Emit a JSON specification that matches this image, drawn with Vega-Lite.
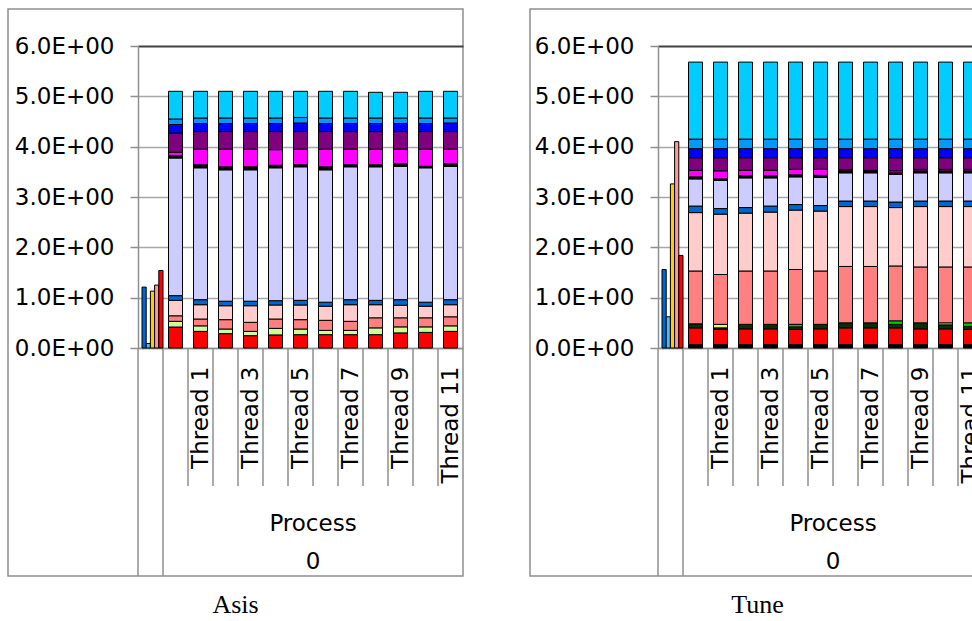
{
  "$schema": "https://vega.github.io/schema/vega-lite/v6.json",
  "background": "white",
  "padding": {"left": 7, "top": 8, "right": 0, "bottom": 0},
  "spacing": 65,
  "config": {
    "view": {"stroke": "#8f8f8f", "strokeWidth": 1.5},
    "font": "DejaVu Sans"
  },
  "datasets": {
    "slots": [
      {"cat": "All"}, {"cat": "Thread 0"}, {"cat": "Thread 1"}, {"cat": "Thread 2"}, {"cat": "Thread 3"},
      {"cat": "Thread 4"}, {"cat": "Thread 5"}, {"cat": "Thread 6"}, {"cat": "Thread 7"}, {"cat": "Thread 8"},
      {"cat": "Thread 9"}, {"cat": "Thread 10"}, {"cat": "Thread 11"}
    ],
    "asis": [
      {"cat": "Thread 0", "S02": 0.417, "S05": 0.113, "S06": 0.11, "S07": 0.307, "S08": 0.093, "S09": 2.735, "S10": 0.045, "S11": 0.07, "S12": 0.38, "S13": 0.17, "S14": 0.11, "S15": 0.55},
      {"cat": "Thread 1", "S02": 0.33, "S05": 0.11, "S06": 0.136, "S07": 0.284, "S08": 0.1, "S09": 2.62, "S10": 0.06, "S11": 0.31, "S12": 0.35, "S13": 0.16, "S14": 0.11, "S15": 0.53},
      {"cat": "Thread 2", "S02": 0.285, "S05": 0.092, "S06": 0.186, "S07": 0.277, "S08": 0.09, "S09": 2.61, "S10": 0.06, "S11": 0.35, "S12": 0.35, "S13": 0.16, "S14": 0.11, "S15": 0.53},
      {"cat": "Thread 3", "S02": 0.245, "S05": 0.085, "S06": 0.18, "S07": 0.33, "S08": 0.09, "S09": 2.61, "S10": 0.06, "S11": 0.35, "S12": 0.35, "S13": 0.16, "S14": 0.11, "S15": 0.53},
      {"cat": "Thread 4", "S02": 0.26, "S05": 0.13, "S06": 0.186, "S07": 0.278, "S08": 0.086, "S09": 2.64, "S10": 0.05, "S11": 0.31, "S12": 0.36, "S13": 0.16, "S14": 0.11, "S15": 0.53},
      {"cat": "Thread 5", "S02": 0.265, "S05": 0.112, "S06": 0.186, "S07": 0.291, "S08": 0.093, "S09": 2.653, "S10": 0.04, "S11": 0.31, "S12": 0.35, "S13": 0.17, "S14": 0.11, "S15": 0.52},
      {"cat": "Thread 6", "S02": 0.265, "S05": 0.085, "S06": 0.2, "S07": 0.28, "S08": 0.08, "S09": 2.63, "S10": 0.06, "S11": 0.35, "S12": 0.35, "S13": 0.16, "S14": 0.11, "S15": 0.53},
      {"cat": "Thread 7", "S02": 0.265, "S05": 0.085, "S06": 0.18, "S07": 0.33, "S08": 0.1, "S09": 2.64, "S10": 0.04, "S11": 0.31, "S12": 0.35, "S13": 0.16, "S14": 0.11, "S15": 0.53},
      {"cat": "Thread 8", "S02": 0.265, "S05": 0.135, "S06": 0.2, "S07": 0.26, "S08": 0.087, "S09": 2.653, "S10": 0.04, "S11": 0.31, "S12": 0.35, "S13": 0.16, "S14": 0.11, "S15": 0.51},
      {"cat": "Thread 9", "S02": 0.3, "S05": 0.12, "S06": 0.18, "S07": 0.25, "S08": 0.11, "S09": 2.65, "S10": 0.05, "S11": 0.29, "S12": 0.35, "S13": 0.16, "S14": 0.11, "S15": 0.51},
      {"cat": "Thread 10", "S02": 0.31, "S05": 0.11, "S06": 0.18, "S07": 0.23, "S08": 0.08, "S09": 2.67, "S10": 0.03, "S11": 0.34, "S12": 0.35, "S13": 0.16, "S14": 0.11, "S15": 0.53},
      {"cat": "Thread 11", "S02": 0.33, "S05": 0.11, "S06": 0.18, "S07": 0.24, "S08": 0.1, "S09": 2.65, "S10": 0.05, "S11": 0.29, "S12": 0.35, "S13": 0.17, "S14": 0.1, "S15": 0.53}
    ],
    "asisTotals": [
      {"cat": "All", "series": "S16", "value": 1.21},
      {"cat": "All", "series": "S17", "value": 0.09},
      {"cat": "All", "series": "S18", "value": 1.13},
      {"cat": "All", "series": "S19", "value": 1.25},
      {"cat": "All", "series": "S20", "value": 1.54}
    ],
    "tune": [
      {"cat": "Thread 0", "S01": 0.066, "S02": 0.334, "S03": 0.08, "S06": 1.05, "S07": 1.16, "S08": 0.13, "S09": 0.54, "S10": 0.04, "S11": 0.13, "S12": 0.25, "S13": 0.18, "S14": 0.19, "S15": 1.53},
      {"cat": "Thread 1", "S01": 0.066, "S02": 0.304, "S03": 0.03, "S05": 0.07, "S06": 0.99, "S07": 1.2, "S08": 0.11, "S09": 0.56, "S10": 0.03, "S11": 0.16, "S12": 0.26, "S13": 0.18, "S14": 0.19, "S15": 1.53},
      {"cat": "Thread 2", "S01": 0.066, "S02": 0.314, "S03": 0.09, "S06": 1.06, "S07": 1.15, "S08": 0.11, "S09": 0.59, "S10": 0.04, "S11": 0.11, "S12": 0.25, "S13": 0.18, "S14": 0.19, "S15": 1.53},
      {"cat": "Thread 3", "S01": 0.066, "S02": 0.314, "S03": 0.09, "S06": 1.06, "S07": 1.17, "S08": 0.12, "S09": 0.56, "S10": 0.04, "S11": 0.11, "S12": 0.25, "S13": 0.18, "S14": 0.19, "S15": 1.53},
      {"cat": "Thread 4", "S01": 0.066, "S02": 0.304, "S03": 0.05, "S04": 0.05, "S06": 1.09, "S07": 1.18, "S08": 0.11, "S09": 0.55, "S10": 0.04, "S11": 0.11, "S12": 0.23, "S13": 0.18, "S14": 0.19, "S15": 1.53},
      {"cat": "Thread 5", "S01": 0.066, "S02": 0.314, "S03": 0.09, "S06": 1.06, "S07": 1.19, "S08": 0.11, "S09": 0.56, "S10": 0.04, "S11": 0.12, "S12": 0.23, "S13": 0.18, "S14": 0.19, "S15": 1.53},
      {"cat": "Thread 6", "S01": 0.066, "S02": 0.334, "S03": 0.1, "S06": 1.12, "S07": 1.19, "S08": 0.11, "S09": 0.56, "S10": 0.04, "S11": 0.02, "S12": 0.24, "S13": 0.18, "S14": 0.19, "S15": 1.53},
      {"cat": "Thread 7", "S01": 0.066, "S02": 0.334, "S03": 0.1, "S06": 1.12, "S07": 1.19, "S08": 0.11, "S09": 0.56, "S10": 0.04, "S11": 0.01, "S12": 0.25, "S13": 0.18, "S14": 0.19, "S15": 1.53},
      {"cat": "Thread 8", "S01": 0.066, "S02": 0.334, "S03": 0.07, "S04": 0.07, "S06": 1.09, "S07": 1.16, "S08": 0.11, "S09": 0.55, "S10": 0.03, "S11": 0.04, "S12": 0.26, "S13": 0.18, "S14": 0.19, "S15": 1.53},
      {"cat": "Thread 9", "S01": 0.066, "S02": 0.314, "S03": 0.12, "S06": 1.11, "S07": 1.2, "S08": 0.11, "S09": 0.56, "S10": 0.04, "S11": 0.03, "S12": 0.23, "S13": 0.18, "S14": 0.19, "S15": 1.53},
      {"cat": "Thread 10", "S01": 0.066, "S02": 0.314, "S03": 0.08, "S05": 0.04, "S06": 1.11, "S07": 1.2, "S08": 0.11, "S09": 0.56, "S10": 0.04, "S11": 0.03, "S12": 0.23, "S13": 0.18, "S14": 0.19, "S15": 1.53},
      {"cat": "Thread 11", "S01": 0.066, "S02": 0.304, "S03": 0.06, "S04": 0.07, "S06": 1.11, "S07": 1.2, "S08": 0.11, "S09": 0.56, "S10": 0.04, "S11": 0.03, "S12": 0.23, "S13": 0.18, "S14": 0.19, "S15": 1.53}
    ],
    "tuneTotals": [
      {"cat": "All", "series": "S16", "value": 1.56},
      {"cat": "All", "series": "S17", "value": 0.62},
      {"cat": "All", "series": "S18", "value": 3.26},
      {"cat": "All", "series": "S19", "value": 4.1},
      {"cat": "All", "series": "S20", "value": 1.84}
    ]
  },
  "hconcat": [
    {
      "width": 455,
      "height": 567,
      "title": {"text": "Asis", "orient": "bottom", "anchor": "middle", "offset": 15, "font": "Liberation Serif", "fontSize": 26, "fontWeight": "normal", "color": "#000000"},
      "resolve": {"axis": {"x": "independent", "y": "independent"}},
      "layer": [
        {
          "data": {"name": "slots"},
          "transform": [{"filter": "datum.cat === 'All' || datum.cat === 'Thread 0'"}],
          "mark": {"type": "rule", "color": "#8f8f8f", "strokeWidth": 1.5},
          "encoding": {
            "x": {"field": "cat", "type": "nominal", "bandPosition": 0, "axis": null, "scale": {"type": "band", "domain": ["All", "Thread 0", "Thread 1", "Thread 2", "Thread 3", "Thread 4", "Thread 5", "Thread 6", "Thread 7", "Thread 8", "Thread 9", "Thread 10", "Thread 11"], "range": [130, 455], "paddingInner": 0, "paddingOuter": 0}},
            "y": {"datum": 0, "type": "quantitative", "axis": null, "scale": {"domain": [0, 6], "range": [339, 37], "nice": false, "zero": true}},
            "y2": {"datum": -4.53}
          }
        },
        {
          "data": {"name": "slots"},
          "transform": [{"filter": "datum.cat !== 'All' && datum.cat !== 'Thread 0'"}],
          "mark": {"type": "rule", "color": "#8f8f8f", "strokeWidth": 1.5},
          "encoding": {
            "x": {"field": "cat", "type": "nominal", "bandPosition": 0, "axis": null, "scale": {"type": "band", "domain": ["All", "Thread 0", "Thread 1", "Thread 2", "Thread 3", "Thread 4", "Thread 5", "Thread 6", "Thread 7", "Thread 8", "Thread 9", "Thread 10", "Thread 11"], "range": [130, 455], "paddingInner": 0, "paddingOuter": 0}},
            "y": {"datum": 0, "type": "quantitative", "axis": null, "scale": {"domain": [0, 6], "range": [339, 37], "nice": false, "zero": true}},
            "y2": {"datum": -2.742}
          }
        },
        {
          "data": {"name": "asis"},
          "transform": [
            {"fold": ["S01", "S02", "S03", "S04", "S05", "S06", "S07", "S08", "S09", "S10", "S11", "S12", "S13", "S14", "S15"], "as": ["series", "value"]},
            {"filter": "isValid(datum.value) && datum.value > 0"}
          ],
          "mark": {"type": "bar", "size": 14, "stroke": "#000000", "strokeWidth": 1},
          "encoding": {
            "x": {
              "field": "cat", "type": "nominal", "title": null,
              "scale": {"type": "band", "domain": ["All", "Thread 0", "Thread 1", "Thread 2", "Thread 3", "Thread 4", "Thread 5", "Thread 6", "Thread 7", "Thread 8", "Thread 9", "Thread 10", "Thread 11"], "range": [130, 455], "paddingInner": 0, "paddingOuter": 0},
              "axis": {"orient": "bottom", "offset": -228, "ticks": false, "grid": false, "domain": true, "domainColor": "#8f8f8f", "domainWidth": 1.5, "labelAngle": 270, "labelAlign": "right", "labelBaseline": "middle", "labelPadding": 18, "labelFont": "DejaVu Sans", "labelFontSize": 23, "labelColor": "#000000", "labelLimit": 300, "labelExpr": "indexof(['Thread 1','Thread 3','Thread 5','Thread 7','Thread 9','Thread 11'], datum.value) >= 0 ? datum.value : ''"}
            },
            "y": {
              "field": "value", "type": "quantitative", "stack": "zero", "title": null,
              "scale": {"domain": [0, 6], "range": [339, 37], "nice": false, "zero": true},
              "axis": {"orient": "left", "offset": -130, "values": [0, 1, 2, 3, 4, 5, 6], "tickSize": 8, "tickColor": "#8f8f8f", "tickWidth": 1.5, "domainColor": "#8f8f8f", "domainWidth": 1.5, "labelPadding": 16, "labelFont": "DejaVu Sans", "labelFontSize": 23, "labelColor": "#000000", "labelExpr": "format(datum.value, '.1f') + 'E+00'", "grid": true, "gridColor": {"condition": {"test": "datum.value === 6", "value": "#404040"}, "value": "#a8a8a8"}, "gridWidth": {"condition": {"test": "datum.value === 6", "value": 2}, "value": 1.5}}
            },
            "color": {"field": "series", "type": "nominal", "legend": null, "scale": {"domain": ["S01", "S02", "S03", "S04", "S05", "S06", "S07", "S08", "S09", "S10", "S11", "S12", "S13", "S14", "S15", "S16", "S17", "S18", "S19", "S20"], "range": ["#000000", "#FF0000", "#003300", "#00CC00", "#CCFF99", "#FF8080", "#FFCCCC", "#0066CC", "#CCCCFF", "#000000", "#FF00FF", "#800080", "#0000FF", "#0099FF", "#00CCFF", "#0066CC", "#4DB8FF", "#FFCC00", "#FF9999", "#FF0000"]}},
            "order": {"field": "series", "type": "ordinal", "sort": "ascending"}
          }
        },
        {
          "data": {"name": "asisTotals"},
          "mark": {"type": "bar", "stroke": "#000000", "strokeWidth": 1},
          "encoding": {
            "x": {"field": "cat", "type": "nominal", "axis": null, "scale": {"type": "band", "domain": ["All", "Thread 0", "Thread 1", "Thread 2", "Thread 3", "Thread 4", "Thread 5", "Thread 6", "Thread 7", "Thread 8", "Thread 9", "Thread 10", "Thread 11"], "range": [130, 455], "paddingInner": 0, "paddingOuter": 0}},
            "xOffset": {"field": "series", "type": "nominal", "scale": {"domain": ["S16", "S17", "S18", "S19", "S20"], "range": [4, 25], "paddingInner": 0, "paddingOuter": 0}},
            "y": {"field": "value", "type": "quantitative", "stack": null, "axis": null, "scale": {"domain": [0, 6], "range": [339, 37], "nice": false, "zero": true}},
            "color": {"field": "series", "type": "nominal", "legend": null, "scale": {"domain": ["S01", "S02", "S03", "S04", "S05", "S06", "S07", "S08", "S09", "S10", "S11", "S12", "S13", "S14", "S15", "S16", "S17", "S18", "S19", "S20"], "range": ["#000000", "#FF0000", "#003300", "#00CC00", "#CCFF99", "#FF8080", "#FFCCCC", "#0066CC", "#CCCCFF", "#000000", "#FF00FF", "#800080", "#0000FF", "#0099FF", "#00CCFF", "#0066CC", "#4DB8FF", "#FFCC00", "#FF9999", "#FF0000"]}}
          }
        },
        {
          "data": {"values": [{"label": "Process"}]},
          "mark": {"type": "text", "font": "DejaVu Sans", "fontSize": 23, "align": "center", "baseline": "alphabetic", "color": "#000000"},
          "encoding": {
            "x": {"datum": "Thread 6", "type": "nominal", "bandPosition": 0, "axis": null, "scale": {"type": "band", "domain": ["All", "Thread 0", "Thread 1", "Thread 2", "Thread 3", "Thread 4", "Thread 5", "Thread 6", "Thread 7", "Thread 8", "Thread 9", "Thread 10", "Thread 11"], "range": [130, 455], "paddingInner": 0, "paddingOuter": 0}},
            "y": {"datum": -3.636, "type": "quantitative", "axis": null, "scale": {"domain": [0, 6], "range": [339, 37], "nice": false, "zero": true}},
            "text": {"field": "label"}
          }
        },
        {
          "data": {"values": [{"label": "0"}]},
          "mark": {"type": "text", "font": "DejaVu Sans", "fontSize": 23, "align": "center", "baseline": "alphabetic", "color": "#000000"},
          "encoding": {
            "x": {"datum": "Thread 6", "type": "nominal", "bandPosition": 0, "axis": null, "scale": {"type": "band", "domain": ["All", "Thread 0", "Thread 1", "Thread 2", "Thread 3", "Thread 4", "Thread 5", "Thread 6", "Thread 7", "Thread 8", "Thread 9", "Thread 10", "Thread 11"], "range": [130, 455], "paddingInner": 0, "paddingOuter": 0}},
            "y": {"datum": -4.39, "type": "quantitative", "axis": null, "scale": {"domain": [0, 6], "range": [339, 37], "nice": false, "zero": true}},
            "text": {"field": "label"}
          }
        }
      ]
    },
    {
      "width": 455,
      "height": 567,
      "title": {"text": "Tune", "orient": "bottom", "anchor": "middle", "offset": 15, "font": "Liberation Serif", "fontSize": 26, "fontWeight": "normal", "color": "#000000"},
      "resolve": {"axis": {"x": "independent", "y": "independent"}},
      "layer": [
        {
          "data": {"name": "slots"},
          "transform": [{"filter": "datum.cat === 'All' || datum.cat === 'Thread 0'"}],
          "mark": {"type": "rule", "color": "#8f8f8f", "strokeWidth": 1.5},
          "encoding": {
            "x": {"field": "cat", "type": "nominal", "bandPosition": 0, "axis": null, "scale": {"type": "band", "domain": ["All", "Thread 0", "Thread 1", "Thread 2", "Thread 3", "Thread 4", "Thread 5", "Thread 6", "Thread 7", "Thread 8", "Thread 9", "Thread 10", "Thread 11"], "range": [128, 453], "paddingInner": 0, "paddingOuter": 0}},
            "y": {"datum": 0, "type": "quantitative", "axis": null, "scale": {"domain": [0, 6], "range": [339, 37], "nice": false, "zero": true}},
            "y2": {"datum": -4.53}
          }
        },
        {
          "data": {"name": "slots"},
          "transform": [{"filter": "datum.cat !== 'All' && datum.cat !== 'Thread 0'"}],
          "mark": {"type": "rule", "color": "#8f8f8f", "strokeWidth": 1.5},
          "encoding": {
            "x": {"field": "cat", "type": "nominal", "bandPosition": 0, "axis": null, "scale": {"type": "band", "domain": ["All", "Thread 0", "Thread 1", "Thread 2", "Thread 3", "Thread 4", "Thread 5", "Thread 6", "Thread 7", "Thread 8", "Thread 9", "Thread 10", "Thread 11"], "range": [128, 453], "paddingInner": 0, "paddingOuter": 0}},
            "y": {"datum": 0, "type": "quantitative", "axis": null, "scale": {"domain": [0, 6], "range": [339, 37], "nice": false, "zero": true}},
            "y2": {"datum": -2.742}
          }
        },
        {
          "data": {"name": "tune"},
          "transform": [
            {"fold": ["S01", "S02", "S03", "S04", "S05", "S06", "S07", "S08", "S09", "S10", "S11", "S12", "S13", "S14", "S15"], "as": ["series", "value"]},
            {"filter": "isValid(datum.value) && datum.value > 0"}
          ],
          "mark": {"type": "bar", "size": 14, "stroke": "#000000", "strokeWidth": 1},
          "encoding": {
            "x": {
              "field": "cat", "type": "nominal", "title": null,
              "scale": {"type": "band", "domain": ["All", "Thread 0", "Thread 1", "Thread 2", "Thread 3", "Thread 4", "Thread 5", "Thread 6", "Thread 7", "Thread 8", "Thread 9", "Thread 10", "Thread 11"], "range": [128, 453], "paddingInner": 0, "paddingOuter": 0},
              "axis": {"orient": "bottom", "offset": -228, "ticks": false, "grid": false, "domain": true, "domainColor": "#8f8f8f", "domainWidth": 1.5, "labelAngle": 270, "labelAlign": "right", "labelBaseline": "middle", "labelPadding": 18, "labelFont": "DejaVu Sans", "labelFontSize": 23, "labelColor": "#000000", "labelLimit": 300, "labelExpr": "indexof(['Thread 1','Thread 3','Thread 5','Thread 7','Thread 9','Thread 11'], datum.value) >= 0 ? datum.value : ''"}
            },
            "y": {
              "field": "value", "type": "quantitative", "stack": "zero", "title": null,
              "scale": {"domain": [0, 6], "range": [339, 37], "nice": false, "zero": true},
              "axis": {"orient": "left", "offset": -128, "values": [0, 1, 2, 3, 4, 5, 6], "tickSize": 8, "tickColor": "#8f8f8f", "tickWidth": 1.5, "domainColor": "#8f8f8f", "domainWidth": 1.5, "labelPadding": 16, "labelFont": "DejaVu Sans", "labelFontSize": 23, "labelColor": "#000000", "labelExpr": "format(datum.value, '.1f') + 'E+00'", "grid": true, "gridColor": {"condition": {"test": "datum.value === 6", "value": "#404040"}, "value": "#a8a8a8"}, "gridWidth": {"condition": {"test": "datum.value === 6", "value": 2}, "value": 1.5}}
            },
            "color": {"field": "series", "type": "nominal", "legend": null, "scale": {"domain": ["S01", "S02", "S03", "S04", "S05", "S06", "S07", "S08", "S09", "S10", "S11", "S12", "S13", "S14", "S15", "S16", "S17", "S18", "S19", "S20"], "range": ["#000000", "#FF0000", "#003300", "#00CC00", "#CCFF99", "#FF8080", "#FFCCCC", "#0066CC", "#CCCCFF", "#000000", "#FF00FF", "#800080", "#0000FF", "#0099FF", "#00CCFF", "#0066CC", "#4DB8FF", "#FFCC00", "#FF9999", "#FF0000"]}},
            "order": {"field": "series", "type": "ordinal", "sort": "ascending"}
          }
        },
        {
          "data": {"name": "tuneTotals"},
          "mark": {"type": "bar", "stroke": "#000000", "strokeWidth": 1},
          "encoding": {
            "x": {"field": "cat", "type": "nominal", "axis": null, "scale": {"type": "band", "domain": ["All", "Thread 0", "Thread 1", "Thread 2", "Thread 3", "Thread 4", "Thread 5", "Thread 6", "Thread 7", "Thread 8", "Thread 9", "Thread 10", "Thread 11"], "range": [128, 453], "paddingInner": 0, "paddingOuter": 0}},
            "xOffset": {"field": "series", "type": "nominal", "scale": {"domain": ["S16", "S17", "S18", "S19", "S20"], "range": [4, 25], "paddingInner": 0, "paddingOuter": 0}},
            "y": {"field": "value", "type": "quantitative", "stack": null, "axis": null, "scale": {"domain": [0, 6], "range": [339, 37], "nice": false, "zero": true}},
            "color": {"field": "series", "type": "nominal", "legend": null, "scale": {"domain": ["S01", "S02", "S03", "S04", "S05", "S06", "S07", "S08", "S09", "S10", "S11", "S12", "S13", "S14", "S15", "S16", "S17", "S18", "S19", "S20"], "range": ["#000000", "#FF0000", "#003300", "#00CC00", "#CCFF99", "#FF8080", "#FFCCCC", "#0066CC", "#CCCCFF", "#000000", "#FF00FF", "#800080", "#0000FF", "#0099FF", "#00CCFF", "#0066CC", "#4DB8FF", "#FFCC00", "#FF9999", "#FF0000"]}}
          }
        },
        {
          "data": {"values": [{"label": "Process"}]},
          "mark": {"type": "text", "font": "DejaVu Sans", "fontSize": 23, "align": "center", "baseline": "alphabetic", "color": "#000000"},
          "encoding": {
            "x": {"datum": "Thread 6", "type": "nominal", "bandPosition": 0, "axis": null, "scale": {"type": "band", "domain": ["All", "Thread 0", "Thread 1", "Thread 2", "Thread 3", "Thread 4", "Thread 5", "Thread 6", "Thread 7", "Thread 8", "Thread 9", "Thread 10", "Thread 11"], "range": [128, 453], "paddingInner": 0, "paddingOuter": 0}},
            "y": {"datum": -3.636, "type": "quantitative", "axis": null, "scale": {"domain": [0, 6], "range": [339, 37], "nice": false, "zero": true}},
            "text": {"field": "label"}
          }
        },
        {
          "data": {"values": [{"label": "0"}]},
          "mark": {"type": "text", "font": "DejaVu Sans", "fontSize": 23, "align": "center", "baseline": "alphabetic", "color": "#000000"},
          "encoding": {
            "x": {"datum": "Thread 6", "type": "nominal", "bandPosition": 0, "axis": null, "scale": {"type": "band", "domain": ["All", "Thread 0", "Thread 1", "Thread 2", "Thread 3", "Thread 4", "Thread 5", "Thread 6", "Thread 7", "Thread 8", "Thread 9", "Thread 10", "Thread 11"], "range": [128, 453], "paddingInner": 0, "paddingOuter": 0}},
            "y": {"datum": -4.39, "type": "quantitative", "axis": null, "scale": {"domain": [0, 6], "range": [339, 37], "nice": false, "zero": true}},
            "text": {"field": "label"}
          }
        }
      ]
    }
  ]
}
